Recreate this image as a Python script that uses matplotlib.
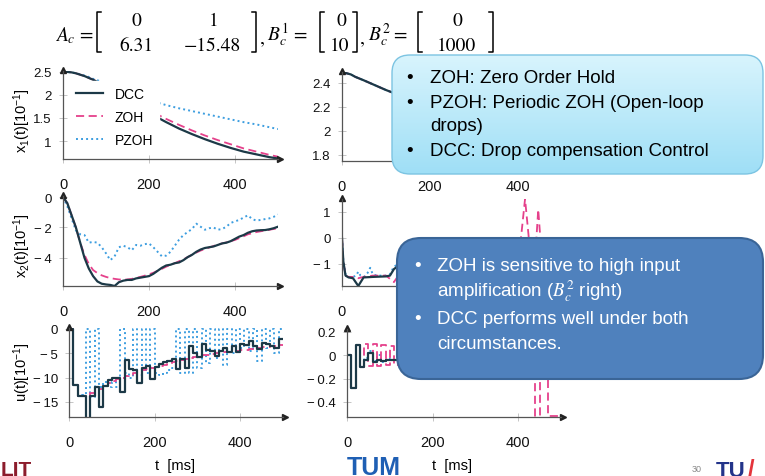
import numpy as np
import matplotlib
matplotlib.use('Agg')
import matplotlib.pyplot as plt
from matplotlib.patches import FancyBboxPatch
from matplotlib.lines import Line2D
from matplotlib.colors import LinearSegmentedColormap

plt.rcParams['font.family'] = ['Liberation Sans', 'DejaVu Sans']
plt.rcParams['mathtext.fontset'] = 'custom'
plt.rcParams['mathtext.rm'] = 'Liberation Sans'
plt.rcParams['mathtext.it'] = 'Liberation Sans:italic'

W, H = 765, 477

# sample grid of the 10 ms signals
t10 = np.arange(0, 501, 10)

# ---- left column: B_c^1 ----
t_x1 = [0, 10, 20, 30, 40, 50, 60, 70, 80, 100, 120, 150, 180, 210, 240, 270, 300, 330, 360, 390, 420, 450, 480, 500]
x1_dcc = [2.50, 2.50, 2.49, 2.47, 2.44, 2.41, 2.37, 2.33, 2.28, 2.16, 2.04, 1.87, 1.71, 1.56, 1.41, 1.27, 1.15, 1.04, 0.94, 0.85, 0.77, 0.71, 0.65, 0.62]
x1_zoh = [2.50, 2.50, 2.49, 2.47, 2.44, 2.41, 2.37, 2.33, 2.29, 2.19, 2.09, 1.93, 1.77, 1.62, 1.48, 1.35, 1.23, 1.12, 1.02, 0.93, 0.84, 0.77, 0.70, 0.66]
x1_pzoh = [2.50, 2.50, 2.49, 2.47, 2.45, 2.42, 2.39, 2.35, 2.32, 2.24, 2.16, 2.04, 1.94, 1.86, 1.78, 1.71, 1.65, 1.59, 1.53, 1.47, 1.41, 1.36, 1.30, 1.26]

x2_dcc = [0, -0.4, -1.2, -2.0, -3.0, -4.0, -4.7, -5.2, -5.55, -5.7,
          -5.75, -5.78, -5.85, -5.6, -5.5, -5.45, -5.45, -5.35, -5.3, -5.25,
          -5.2, -5.05, -4.85, -4.65, -4.5, -4.45, -4.35, -4.3, -4.15, -3.95,
          -3.8, -3.6, -3.45, -3.35, -3.3, -3.25, -3.15, -3.05, -3.0, -2.9,
          -2.75, -2.6, -2.5, -2.35, -2.25, -2.2, -2.18, -2.17, -2.12, -2.05,
          -1.95]
x2_zoh = [0, -0.4, -1.2, -2.0, -3.0, -3.8, -4.4, -4.8, -5.0, -5.15,
          -5.25, -5.33, -5.38, -5.42, -5.43, -5.42, -5.38, -5.32, -5.25, -5.17,
          -5.08, -4.98, -4.85, -4.72, -4.58, -4.45, -4.35, -4.22, -4.1, -3.95,
          -3.8, -3.65, -3.52, -3.42, -3.32, -3.22, -3.12, -3.05, -2.98, -2.9,
          -2.82, -2.7, -2.58, -2.45, -2.38, -2.3, -2.25, -2.2, -2.15, -2.1,
          -2.05]
x2_pzoh = [0, -0.6, -1.4, -2.2, -2.45, -2.5, -3.0, -2.95, -3.0, -3.3,
           -3.7, -4.15, -3.9, -3.3, -3.2, -3.3, -3.5, -3.15, -3.2, -3.1,
           -3.05, -3.3, -3.6, -3.9, -3.85, -3.6, -3.2, -2.8, -2.5, -2.3,
           -2.1, -1.75, -1.95, -2.15, -2.05, -2.0, -2.15, -2.1, -1.95, -1.7,
           -1.6, -1.5, -1.35, -1.2, -1.45, -1.55, -1.5, -1.45, -1.4, -1.3,
           -1.15]

u_dcc = [0, -11.5, -13.8, -13.8, -18.5, -13.8, -12.0, -16.0, -11.8, -10.5,
         -10.0, -10.0, -13.0, -6.3, -8.2, -8.5, -11.2, -8.0, -7.6, -10.2,
         -7.8, -7.3, -6.8, -6.5, -6.2, -8.2, -6.2, -8.0, -3.5, -5.0,
         -5.8, -3.0, -4.3, -4.5, -5.5, -4.5, -4.0, -4.8, -3.6, -4.8,
         -3.0, -3.3, -2.5, -3.5, -4.2, -2.8, -3.0, -3.5, -4.0, -2.0,
         -2.0]
u_zoh = [0, -11.5, -13.8, -13.8, -13.5, -13.2, -12.8, -12.3, -11.8, -11.2,
         -10.7, -10.3, -10.0, -9.7, -9.4, -9.1, -8.8, -8.5, -8.3, -8.1,
         -7.9, -7.7, -7.4, -7.1, -6.8, -6.6, -6.4, -6.2, -6.0, -5.8,
         -5.6, -5.4, -5.3, -5.1, -5.0, -4.9, -4.8, -4.7, -4.6, -4.5,
         -4.4, -4.3, -4.2, -4.1, -4.0, -3.8, -3.7, -3.5, -3.4, -3.2,
         -3.2]
u_pzoh = [0, -11.5, -13.8, -13.5, 0, -14.0, 0, -12.0, -11.0, -12.0,
          -11.0, -12.0, 0, -9.0, -10.0, 0, -9.5, 0, -9.0, 0,
          -9.0, -9.5, -9.0, -8.5, -8.0, 0, -9.0, 0, -9.0, 0,
          -8.0, 0, -7.0, 0, -6.0, 0, -7.5, 0, -5.0, 0,
          -4.0, 0, -4.5, 0, -6.5, 0, -4.0, 0, -5.0, 0,
          0]

# ---- right column: B_c^2 ----
t_x1r = [0, 5, 10, 20, 30, 50, 75, 100, 150, 200, 250, 300, 350, 400, 450, 500]
x1r_dcc = [2.48, 2.49, 2.48, 2.47, 2.45, 2.42, 2.38, 2.34, 2.27, 2.20, 2.13, 2.07, 2.01, 1.95, 1.89, 1.84]
x1r_zoh = [2.48, 2.49, 2.48, 2.47, 2.45, 2.42, 2.38, 2.34, 2.27, 2.21, 2.14, 2.08, 2.02, 1.96, 1.91, 1.86]
x1r_pzoh = [2.48, 2.49, 2.48, 2.47, 2.45, 2.42, 2.38, 2.34, 2.27, 2.20, 2.14, 2.07, 2.01, 1.95, 1.90, 1.85]

t_x2r_dcc = [0, 3, 8, 15, 25, 37, 49, 70, 100, 109, 118, 130, 200, 300, 400, 500]
x2r_dcc = [0, -0.9, -1.45, -1.52, -1.55, -1.85, -1.52, -1.5, -1.48, -1.45, -1.2, -1.05, -1.15, -1.2, -1.3, -1.35]
t_x2r_zoh = [0, 3, 8, 15, 25, 37, 49, 70, 100, 118, 130, 200, 300, 380, 400, 408, 416, 424, 432, 440, 446, 452, 460, 470, 480, 490, 500]
x2r_zoh = [0, -0.9, -1.45, -1.5, -1.5, -1.55, -1.5, -1.45, -1.45, -1.7, -1.4, -1.35, -1.35, -1.3, -1.0, 0.2, 1.5, 0.1, -1.9, -0.5, 1.1, -0.3, -1.9, -1.9, -1.9, -1.9, -1.9]
t_x2r_pzoh = [0, 3, 8, 15, 25, 32, 37, 42, 50, 58, 64, 70, 80, 100, 109, 118, 130, 200, 300, 400, 500]
x2r_pzoh = [0, -0.9, -1.4, -1.5, -1.5, -1.45, -1.3, -1.45, -1.5, -1.35, -1.15, -1.4, -1.45, -1.45, -1.4, -1.1, -1.0, -1.2, -1.25, -1.3, -1.3]

u_dcc_r = [0, -0.28, 0.09, -0.10, -0.04, 0.02, -0.06, -0.04, -0.05, -0.04,
           -0.04, -0.04, -0.035, -0.035, -0.03, -0.03, -0.03, -0.03, -0.03, -0.03,
           -0.025, -0.025, -0.025, -0.025, -0.025, -0.02, -0.02, -0.02, -0.02, -0.02,
           -0.02, -0.02, -0.02, -0.02, -0.02, -0.015, -0.015, -0.015, -0.015, -0.015,
           -0.015, -0.015, -0.015, -0.015, -0.015, -0.01, -0.01, -0.01, -0.01, -0.01,
           -0.01]
u_zoh_r = [0, -0.28, 0.09, -0.10, 0.10, -0.09, 0.10, -0.09, 0.09, -0.08,
           0.08, -0.08, 0.07, -0.07, 0.06, -0.06, 0.06, -0.06, 0.06, -0.06,
           0.06, -0.06, 0.06, -0.06, 0.06, -0.07, 0.07, -0.07, 0.08, -0.08,
           0.09, -0.09, 0.10, -0.10, 0.11, -0.12, 0.13, -0.14, 0.15, -0.17,
           0.19, -0.12, 0.15, -0.15, -0.9, 0.9, 0.9, -0.52, -0.52, -0.52,
           -0.52]
u_pzoh_r = [0, -0.28, 0.09, -0.10, -0.02, 0.04, -0.05, 0.0, -0.06, -0.03,
            -0.04, -0.04, -0.03, -0.03, -0.03, -0.03, -0.03, -0.03, -0.03, -0.03,
            -0.025, -0.025, -0.025, -0.025, -0.025, -0.02, -0.02, -0.02, -0.02, -0.02,
            -0.02, -0.02, -0.02, -0.02, -0.02, -0.015, -0.015, -0.015, -0.015, -0.015,
            -0.015, -0.015, -0.015, -0.015, -0.015, -0.01, -0.01, -0.01, -0.01, -0.01,
            -0.01]

C_DCC, C_ZOH, C_PZOH = '#1c3947', '#e5418b', '#3d9ee0'
ST_DCC = dict(color=C_DCC, lw=1.6, linestyle='-')
ST_ZOH = dict(color=C_ZOH, lw=1.3, linestyle=(0, (4.5, 2.5)))
ST_PZOH = dict(color=C_PZOH, lw=1.4, linestyle=(0, (1, 1.6)))

fig = plt.figure(figsize=(W / 100, H / 100), dpi=100)
fig.patch.set_facecolor('white')


def px_axes(x0, y0, x1, y1):
    return fig.add_axes([x0 / W, 1 - y1 / H, (x1 - x0) / W, (y1 - y0) / H])


def minus(v):
    s = ('%g' % abs(v))
    return ('\u2212\u2009' + s) if v < 0 else s


def style(ax, ylim, yticks):
    ax.set_xlim(0, 500)
    ax.set_ylim(*ylim)
    ax.patch.set_alpha(0)
    for s in ('top', 'right'):
        ax.spines[s].set_visible(False)
    for s in ('left', 'bottom'):
        ax.spines[s].set_color('#555555')
        ax.spines[s].set_linewidth(0.9)
    ax.set_xticks([0, 200, 400])
    ax.set_xticklabels(['0', '200', '400'])
    ax.set_yticks(yticks)
    ax.set_yticklabels([minus(v) for v in yticks])
    ax.tick_params(axis='x', direction='inout', length=6, width=0.6, color='#bbbbbb',
                   labelsize=10.5, pad=10, labelcolor='#111111')
    ax.tick_params(axis='y', direction='inout', length=6, width=0.6, color='#bbbbbb',
                   labelsize=9.5, pad=5, labelcolor='#111111')
    ax.plot(1.01, 0, '>', color='#222222', ms=4, transform=ax.transAxes, clip_on=False)
    ax.plot(0, 1.01, '^', color='#222222', ms=4, transform=ax.transAxes, clip_on=False)


# left column
ax1 = px_axes(63, 72, 278, 160)
ax1.plot(t_x1, x1_pzoh, **ST_PZOH)
ax1.plot(t_x1, x1_zoh, **ST_ZOH)
ax1.plot(t_x1, x1_dcc, **ST_DCC)
style(ax1, (0.61, 2.52), [1, 1.5, 2, 2.5])
handles = [Line2D([], [], **ST_DCC), Line2D([], [], **ST_ZOH), Line2D([], [], **ST_PZOH)]
leg = ax1.legend(handles, ['DCC', 'ZOH', 'PZOH'], loc='upper left',
                 bbox_to_anchor=(70 / W, 1 - 82 / H), bbox_transform=fig.transFigure,
                 fontsize=10, frameon=True, fancybox=False, framealpha=1,
                 handlelength=2.0, handletextpad=0.8, labelspacing=0.65, borderpad=0.4,
                 borderaxespad=0)
leg.get_frame().set_edgecolor('white')

ax2 = px_axes(63, 197, 278, 287)
ax2.plot(t10, x2_pzoh, **ST_PZOH)
ax2.plot(t10, x2_zoh, **ST_ZOH)
ax2.plot(t10, x2_dcc, **ST_DCC)
style(ax2, (-5.85, 0.07), [-4, -2, 0])

ax3 = px_axes(69, 329, 283, 418)
ax3.plot(t10, u_pzoh, drawstyle='steps-post', **ST_PZOH)
ax3.plot(t10, u_zoh, drawstyle='steps-post', **ST_ZOH)
ax3.plot(t10, u_dcc, drawstyle='steps-post', **ST_DCC)
style(ax3, (-18.1, 0.2), [-15, -10, -5, 0])

# right column
ax4 = px_axes(342, 73, 562, 162)
ax4.plot(t_x1r, x1r_pzoh, **ST_PZOH)
ax4.plot(t_x1r, x1r_zoh, **ST_ZOH)
ax4.plot(t_x1r, x1r_dcc, **ST_DCC)
style(ax4, (1.75, 2.49), [1.8, 2, 2.2, 2.4])

ax5 = px_axes(342, 200, 562, 287)
ax5.plot(t_x2r_pzoh, x2r_pzoh, **ST_PZOH)
ax5.plot(t_x2r_zoh, x2r_zoh, **ST_ZOH)
ax5.plot(t_x2r_dcc, x2r_dcc, **ST_DCC)
style(ax5, (-1.85, 1.5), [-1, 0, 1])

ax6 = px_axes(347, 330, 561, 418)
ax6.plot(t10, u_pzoh_r, drawstyle='steps-post', **ST_PZOH)
ax6.plot(t10, u_zoh_r, drawstyle='steps-post', **ST_ZOH)
ax6.plot(t10, u_dcc_r, drawstyle='steps-post', **ST_DCC)
style(ax6, (-0.53, 0.225), [-0.4, -0.2, 0, 0.2])

# overlay in pixel coordinates
ov = fig.add_axes([0, 0, 1, 1], zorder=10)
ov.set_xlim(0, W)
ov.set_ylim(H, 0)
ov.axis('off')

# axis labels
ov.text(22, 121, r'x$_{\mathrm{1}}$(t)[10$^{\mathrm{-1}}$]', rotation=90, ha='center', va='center', fontsize=10.5)
ov.text(22, 246, r'x$_{\mathrm{2}}$(t)[10$^{\mathrm{-1}}$]', rotation=90, ha='center', va='center', fontsize=10.5)
ov.text(22, 372, r'u(t)[10$^{\mathrm{-1}}$]', rotation=90, ha='center', va='center', fontsize=10.5)
ov.text(175, 466, 't  [ms]', ha='center', va='center', fontsize=10.5)
ov.text(452, 466, 't  [ms]', ha='center', va='center', fontsize=10.5)

# formula at the top
fs = 14
mk = dict(math_fontfamily='stix', fontsize=fs, va='baseline', color='black')
num = dict(family='STIXGeneral', fontsize=fs, va='center', ha='center', color='black')
sym = dict(family='STIXGeneral', fontsize=fs, va='baseline', ha='center', color='black')


def bracket(x, y0, y1, side):
    d = 4 if side == 'l' else -4
    ov.plot([x + d, x, x, x + d], [y0, y0, y1, y1], color='black', lw=1.1)


ov.text(55, 41, r'$\mathit{A}_{\mathit{c}}$', ha='left', **mk)
ov.text(86, 41, '=', **sym)
bracket(97, 13, 53, 'l')
ov.text(136, 21, '0', **num)
ov.text(136, 46, '6.31', **num)
ov.text(214, 21, '1', **num)
ov.text(212, 46, '\u221215.48', **num)
bracket(256, 13, 53, 'r')
ov.text(262, 43, ',', **sym)
ov.text(267, 41, r'$\mathit{B}_{\mathit{c}}^{1}$', ha='left', **mk)
ov.text(300, 41, '=', **sym)
bracket(320, 13, 53, 'l')
ov.text(341, 21, '0', **num)
ov.text(340, 46, '10', **num)
bracket(357, 13, 53, 'r')
ov.text(362, 43, ',', **sym)
ov.text(368, 41, r'$\mathit{B}_{\mathit{c}}^{2}$', ha='left', **mk)
ov.text(400, 41, '=', **sym)
bracket(418, 13, 53, 'l')
ov.text(457, 21, '0', **num)
ov.text(456, 46, '1000', **num)
bracket(493, 13, 53, 'r')

# light blue callout
b1 = FancyBboxPatch((392, 56), 371, 119, boxstyle='round,pad=0,rounding_size=18',
                    facecolor='none', edgecolor='#7cc4e2', lw=1.0, zorder=3)
ov.add_patch(b1)
grad_cmap = LinearSegmentedColormap.from_list('g', ['#d8f4fd', '#9fdff6'])
img = ov.imshow(np.linspace(0, 1, 100).reshape(-1, 1), cmap=grad_cmap, aspect='auto',
                extent=(392, 763, 175, 56), origin='upper', zorder=2)
img.set_clip_path(b1)
ov.set_xlim(0, W)
ov.set_ylim(H, 0)

tfs = 13.5
bt = dict(ha='left', va='baseline', fontsize=tfs, color='black', zorder=4)
for y, s in [(83, 'ZOH: Zero Order Hold'), (108, 'PZOH: Periodic ZOH (Open-loop'), (156, 'DCC: Drop compensation Control')]:
    ov.text(410, y, '\u2022', **{**bt, 'ha': 'center'})
    ov.text(430, y, s, **bt)
ov.text(430, 131, 'drops)', **bt)

# dark blue callout
b2 = FancyBboxPatch((397, 239), 366, 141, boxstyle='round,pad=0,rounding_size=24',
                    facecolor='#4f81bd', edgecolor='#3a6597', lw=1.5, zorder=3)
ov.add_patch(b2)
wt = dict(ha='left', va='baseline', fontsize=tfs, color='white', zorder=4)
ov.text(418, 271, '\u2022', **{**wt, 'ha': 'center'})
ov.text(437, 271, 'ZOH is sensitive to high input', **wt)
ov.text(437, 297, r'amplification ($\mathit{B}_{\mathit{c}}^{2}$ right)', math_fontfamily='stix', **wt)
ov.text(418, 324, '\u2022', **{**wt, 'ha': 'center'})
ov.text(437, 324, 'DCC performs well under both', **wt)
ov.text(437, 349, 'circumstances.', **wt)

# footer logos (cut by the slide edge)
ov.text(1, 461, 'LIT', ha='left', va='top', fontsize=15, fontweight='bold', color='#8c1c2c')
ov.text(347, 456, 'TUM', ha='left', va='top', fontsize=18, fontweight='bold', color='#1f5fb4')
ov.text(697, 470, '30', ha='center', va='center', fontsize=6.5, color='#888888')
ov.text(716, 461, 'TU', ha='left', va='top', fontsize=16, fontweight='bold', color='#23348a')
ov.text(748, 459, '/', ha='left', va='top', fontsize=17, fontweight='bold', color='#e4343b')

fig.savefig('out.png', dpi=100)
plt.close(fig)
